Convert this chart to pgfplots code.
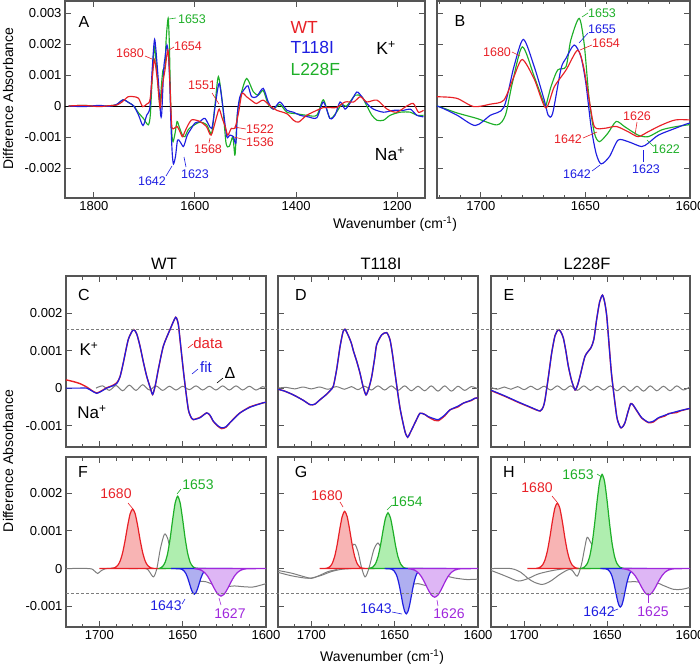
\documentclass[border=0pt]{standalone}
\usepackage{fontspec}
\setmainfont{Liberation Sans}
\usepackage{pgfplots}
\usepackage{pgfplotstable}
\pgfplotsset{compat=1.18}

\definecolor{cR}{RGB}{232,32,38}
\definecolor{cB}{RGB}{30,30,225}
\definecolor{cG}{RGB}{30,175,40}
\definecolor{cP}{RGB}{160,40,220}
\definecolor{fR}{RGB}{248,180,180}
\definecolor{fG}{RGB}{175,238,175}
\definecolor{fB}{RGB}{175,175,240}
\definecolor{fP}{RGB}{222,182,245}
\definecolor{frm}{RGB}{85,85,85}
\definecolor{gl}{RGB}{125,125,125}

% ---------- Panel A/B spectra (values in units of 1e-3) ----------
\pgfplotstableread{
w v
1850 0
1820 0.02
1790 -0.02
1770 0.01
1755 0.03
1745 0.12
1732 0.30
1721 0.30
1711.6 0.25
1703.5 -0.02
1695.5 0.06
1689 0.19
1684.2 0.95
1680.2 1.50
1674.5 0.87
1669 -0.06
1664.9 0.62
1659.3 1.16
1653.8 1.80
1651 1.30
1648.2 0.20
1645.7 -0.67
1640.9 -0.72
1635.3 -0.66
1629.6 -0.83
1624.8 -0.99
1620 -0.83
1613.5 -0.61
1607 -0.45
1600 -0.45
1590 -0.50
1577 -0.67
1568 -0.94
1557 -0.34
1552 -0.10
1546 -0.40
1540 -0.67
1535 -0.94
1528 -0.72
1521 -0.72
1514 -0.24
1507 0.40
1498 0.30
1485 0.14
1478 0.08
1465 0.19
1451 0
1438 -0.14
1418 -0.25
1405 -0.46
1395 -0.52
1379 -0.30
1359 -0.14
1346 -0.05
1333 -0.05
1320 -0.05
1303 0.13
1286 0.13
1273 0.30
1260 0.13
1240 0.19
1220 -0.10
1201 -0.20
1181 0
1168 0.08
1158 -0.20
1148 -0.14
}\Ared
\pgfplotstableread{
w v
1850 0
1820 -0.02
1790 0.02
1770 -0.01
1755 0.05
1742 0.20
1730 0.10
1721 0
1711.6 -0.29
1702.7 -0.63
1695.5 -0.30
1689 -0.04
1684.2 1.27
1679.7 2.15
1674.5 1.27
1669.7 0.19
1667.8 -0.30
1665.7 -0.24
1661.7 1.20
1659.3 1.54
1655.4 1.97
1652.2 1.60
1649.8 0.73
1647.3 -0.67
1644.9 -1.53
1642.5 -1.87
1638.5 -1.63
1634.4 -1.10
1629.6 -1.15
1623.2 -1.31
1620 -1.20
1615.1 -0.94
1607 -0.72
1600 -0.55
1590 -0.50
1580 -0.40
1567 -0.72
1560 0
1552 0.73
1544 -0.13
1537 -0.99
1531 -0.94
1524 -0.99
1519 -1.20
1516 -0.24
1511 0.30
1501 0.57
1495 0.65
1488 0.30
1478 0.30
1465 0.57
1455 0.13
1445 -0.10
1432 0.13
1418 -0.14
1405 -0.20
1392 -0.30
1376 -0.35
1359 -0.38
1346 0.13
1333 -0.40
1323 -0.30
1313 0.13
1303 -0.10
1293 0.10
1280 0.45
1270 0.30
1260 0.08
1247 -0.10
1227 -0.20
1207 -0.14
1187 -0.14
1174 -0.10
1161 -0.30
1148 -0.35
}\Ablue
\pgfplotstableread{
w v
1850 0
1820 0.02
1790 -0.01
1770 0.01
1755 0.04
1742 0.20
1730 0.10
1721 0
1711.6 -0.22
1702 -0.40
1692.3 -0.61
1688.3 -0.30
1685 0.73
1680.2 1.91
1674.5 0.95
1670 0.12
1669 0
1666.5 0.62
1663.3 1.16
1659.3 1.27
1657 2.13
1653 2.83
1650.6 2.00
1648.2 0.20
1645.7 -0.88
1643.3 -1.15
1639.3 -0.88
1635.3 -0.50
1631.2 -0.67
1624.8 -0.94
1620 -0.99
1613.5 -0.77
1607 -0.67
1600 -0.60
1590 -0.52
1577 -0.60
1567 -0.88
1560 0.09
1553.5 0.95
1545 0
1538.5 -1.20
1532 -1.30
1525 -1.00
1520.7 -1.58
1516 -0.24
1507.6 0.46
1497.6 0.89
1484.5 0.46
1474.6 0.35
1465 0.50
1455 0.05
1445 -0.10
1432 0.05
1418 -0.20
1399 -0.25
1379 -0.30
1359 -0.30
1346 0.20
1333 -0.40
1320 -0.20
1310 0.05
1300 0
1283 0.35
1270 0.30
1260 0
1250 -0.30
1240 -0.46
1227 -0.46
1214 -0.30
1194 -0.20
1174 -0.20
1161 -0.30
1148 -0.30
}\Agreen

% ---------- Panels C, D, E ----------
\pgfplotstableread{
w v
1720 0
1712 0
1707.6 0
1704.6 -0.07
1701.6 -0.14
1698.6 -0.08
1695.6 0
1692.6 0.05
1689.6 0.12
1687.6 0.30
1685.6 0.68
1682.6 1.30
1679.6 1.56
1677.6 1.45
1675.6 1.12
1673.6 0.70
1671.6 0.32
1669.6 0.03
1668 -0.17
1666.3 0.10
1664.6 0.50
1661.6 1.12
1657.6 1.56
1654.2 1.89
1652.6 1.70
1651.6 1.30
1649.2 0.32
1646.6 -0.57
1644.6 -0.80
1643.6 -0.84
1639.6 -0.79
1635.6 -0.66
1633.6 -0.72
1631.6 -0.88
1629 -1.00
1626.6 -1.06
1624 -1.03
1621.6 -0.92
1618.6 -0.79
1615.6 -0.66
1609.6 -0.51
1601.6 -0.39
1600 -0.38
}\Cfit
\pgfplotstableread{
w v
1720 0.22
1716 0.18
1711.6 0.12
1707.6 0.03
1704.6 -0.06
1701.6 -0.13
1698.6 -0.07
1695.6 0.01
1692.6 0.06
1689.6 0.14
1687.6 0.30
1685.6 0.68
1682.6 1.30
1679.6 1.56
1677.6 1.45
1675.6 1.12
1673.6 0.70
1671.6 0.32
1669.6 0.03
1668 -0.17
1666.3 0.10
1664.6 0.50
1661.6 1.12
1657.6 1.56
1654.2 1.89
1652.6 1.70
1651.6 1.30
1649.2 0.32
1646.6 -0.57
1644.6 -0.81
1643.6 -0.84
1639.6 -0.78
1635.6 -0.66
1633.6 -0.73
1631.6 -0.89
1629 -1.01
1626.6 -1.08
1624 -1.04
1621.6 -0.92
1618.6 -0.78
1615.6 -0.66
1609.6 -0.50
1601.6 -0.39
1600 -0.38
}\Cdat
\pgfplotstableread{
w v
1702 0
1698 0.06
1694 -0.06
1690 0.07
1686 -0.07
1682 0.08
1678 -0.06
1674 0.09
1670 -0.05
1666 0.06
1662 -0.06
1658 0.05
1654 -0.05
1650 0.05
1646 -0.04
1642 0.06
1638 -0.05
1634 0.05
1630 -0.05
1626 0.06
1622 -0.05
1618 0.06
1614 -0.05
1610 0.05
1606 -0.05
1602 0.04
1600 0
}\Cres
\pgfplotstableread{
w v
1720 -0.03
1716 -0.08
1710.8 -0.18
1705 -0.32
1700.8 -0.44
1698 -0.43
1694.8 -0.31
1691 -0.17
1688.8 -0.07
1686.8 0.05
1684.8 0.50
1682.8 1.10
1681 1.50
1679.8 1.57
1677.8 1.40
1676 1.20
1674.8 1.00
1672.8 0.72
1670.8 0.40
1669 0.05
1667.2 -0.18
1665.5 0
1663.8 0.30
1662 0.80
1660.8 1.16
1657.8 1.42
1654.8 1.48
1652.8 1.29
1651.3 0.90
1649.8 0.40
1646.8 -0.53
1643.8 -1.16
1642.2 -1.31
1640.8 -1.20
1639.8 -1.11
1637 -0.85
1634.8 -0.67
1632 -0.70
1629.8 -0.76
1626 -0.82
1623.8 -0.84
1620 -0.72
1616.8 -0.58
1612 -0.48
1608.8 -0.40
1604 -0.32
1601.8 -0.27
1600 -0.26
}\Dfit
\pgfplotstableread{
w v
1720 -0.03
1716 -0.08
1710.8 -0.18
1705 -0.32
1700.8 -0.44
1698 -0.43
1694.8 -0.31
1691 -0.17
1688.8 -0.07
1686.8 0.05
1684.8 0.50
1682.8 1.10
1681 1.50
1679.8 1.57
1677.8 1.40
1676 1.20
1674.8 1.00
1672.8 0.72
1670.8 0.40
1669 0.05
1667.2 -0.18
1665.5 0
1663.8 0.30
1662 0.80
1660.8 1.16
1657.8 1.42
1654.8 1.48
1652.8 1.29
1651.3 0.90
1649.8 0.40
1646.8 -0.53
1643.8 -1.16
1642.2 -1.31
1640.8 -1.20
1639.8 -1.11
1637 -0.85
1634.8 -0.67
1632 -0.70
1629.8 -0.77
1626 -0.86
1623.8 -0.87
1620 -0.74
1616.8 -0.58
1612 -0.50
1608.8 -0.40
1604 -0.33
1601.8 -0.27
1600 -0.26
}\Ddat
\pgfplotstableread{
w v
1720 0
1715 0.02
1710 -0.02
1705 0.03
1700 -0.02
1695 0.03
1690 -0.03
1685 0.04
1680 -0.03
1676 0.04
1672 -0.04
1668 0.05
1664 -0.05
1660 0.06
1656 -0.05
1652 0.06
1648 -0.06
1644 0.06
1640 -0.07
1636 0.05
1632 -0.07
1628 0.06
1624 -0.08
1620 0.06
1616 -0.08
1612 0.05
1608 -0.06
1604 0.04
1600 -0.02
}\Dres
\pgfplotstableread{
w v
1720 -0.06
1718.6 -0.08
1711.5 -0.21
1703.5 -0.37
1695.5 -0.52
1690.4 -0.61
1688.5 -0.50
1687.4 -0.30
1685.4 0.30
1683.4 0.94
1681.4 1.40
1679.4 1.56
1677.9 1.50
1676.4 1.34
1674.9 1.00
1673.4 0.59
1671.4 0.20
1669.3 -0.05
1667.8 0.08
1666.3 0.32
1663.3 0.85
1659.7 1.08
1658 1.30
1656.3 1.83
1654.5 2.30
1652.8 2.48
1651.5 2.30
1650.2 1.92
1648.7 1.10
1647.2 0.32
1644.2 -0.75
1642.5 -1.00
1641.6 -1.06
1640.4 -1.02
1639.2 -0.92
1637.5 -0.65
1635.8 -0.42
1634.5 -0.44
1633.2 -0.52
1631 -0.67
1629.1 -0.79
1625.1 -0.91
1622 -0.88
1619.1 -0.79
1615 -0.72
1611 -0.66
1606 -0.60
1601 -0.55
1600 -0.54
}\Efit
\pgfplotstableread{
w v
1720 -0.06
1718.6 -0.09
1711.5 -0.22
1703.5 -0.38
1697 -0.50
1695.5 -0.53
1690.4 -0.61
1688.5 -0.50
1687.4 -0.30
1685.4 0.30
1683.4 0.94
1681.4 1.40
1679.4 1.56
1677.9 1.50
1676.4 1.34
1674.9 1.00
1673.4 0.59
1671.4 0.20
1669.3 -0.05
1667.8 0.08
1666.3 0.32
1663.3 0.85
1659.7 1.08
1658 1.30
1656.3 1.83
1654.5 2.30
1652.8 2.48
1651.5 2.30
1650.2 1.92
1648.7 1.10
1647.2 0.32
1644.2 -0.75
1642.5 -1.00
1641.6 -1.06
1640.4 -1.02
1639.2 -0.92
1637.5 -0.65
1635.8 -0.41
1634.5 -0.44
1633.2 -0.53
1631 -0.68
1629.1 -0.80
1625.1 -0.92
1622 -0.90
1619.1 -0.80
1615 -0.74
1613 -0.68
1608 -0.65
1606 -0.61
1601 -0.55
1600 -0.54
}\Edat
\pgfplotstableread{
w v
1720 0.02
1716 -0.03
1712 0.03
1708 -0.03
1704 0.04
1700 -0.04
1696 0.05
1692 -0.04
1688 0.05
1684 -0.05
1680 0.06
1676 -0.05
1672 0.06
1668 -0.06
1664 0.06
1660 -0.06
1656 0.05
1652 -0.05
1648 0.06
1644 -0.07
1640 0.05
1636 -0.08
1632 0.05
1628 -0.08
1624 0.06
1620 -0.07
1616 0.05
1612 -0.07
1608 0.06
1604 -0.05
1600 0.04
}\Eres

% ---------- Panels F, G, H (band components) ----------
\pgfplotstableread{
w v
1700 0
1693 0.003
1691 0.019
1689 0.082
1687.5 0.202
1686 0.424
1684.5 0.754
1683 1.138
1681.5 1.455
1680 1.58
1678.5 1.455
1677 1.138
1675.5 0.754
1674 0.424
1672.5 0.202
1671 0.082
1669 0.019
1667 0.003
1660 0
}\Fr
\pgfplotstableread{
w v
1664 0
1662 0.058
1660.5 0.168
1659 0.405
1657.5 0.799
1656 1.302
1654.5 1.741
1653 1.92
1651.5 1.741
1650 1.302
1648.5 0.799
1647 0.405
1645.5 0.168
1644 0.058
1642 0.010
1636 0
}\Fg
\pgfplotstableread{
w v
1657 0
1652 -0.004
1650.5 -0.019
1649 -0.069
1648 -0.138
1647 -0.245
1646 -0.383
1645 -0.527
1644 -0.638
1643 -0.68
1642 -0.638
1641 -0.527
1640 -0.383
1639 -0.245
1638 -0.138
1637 -0.069
1635.5 -0.019
1634 -0.004
1620 0
}\Fb
\pgfplotstableread{
w v
1643 0
1641 -0.014
1639 -0.041
1637 -0.099
1635 -0.203
1633 -0.356
1631 -0.530
1629 -0.674
1627 -0.73
1625 -0.674
1623 -0.530
1621 -0.356
1619 -0.203
1617 -0.099
1615 -0.041
1613 -0.014
1611 -0.004
1600 0
}\Fp
\pgfplotstableread{
w v
1720 0
1706 0
1703 -0.06
1701 -0.13
1699 -0.06
1696 0
1690 0.01
1680 0
1672 0
1670 -0.08
1667.5 -0.22
1665.5 0
1663.5 0.50
1661.5 0.85
1660.5 0.92
1659 0.80
1657 0.50
1652 0.30
1648 0
1643 -0.30
1636 -0.35
1630 -0.45
1624 -0.48
1619 -0.46
1614 -0.48
1608 -0.49
1604 -0.45
1600 -0.40
}\Fgray
\pgfplotstableread{
w v
1695 0
1691 0.008
1689 0.046
1687.5 0.133
1686 0.321
1684.5 0.632
1683 1.031
1681.5 1.379
1680 1.52
1678.5 1.379
1677 1.031
1675.5 0.632
1674 0.321
1672.5 0.133
1671 0.046
1669 0.008
1662 0
}\Gr
\pgfplotstableread{
w v
1666 0
1665 0.008
1663 0.045
1661.5 0.130
1660 0.312
1658.5 0.616
1657 1.003
1655.5 1.342
1654 1.48
1652.5 1.342
1651 1.003
1649.5 0.616
1648 0.312
1646.5 0.130
1645 0.045
1643 0.008
1633 0
}\Gg
\pgfplotstableread{
w v
1656 0
1652 -0.013
1650.5 -0.053
1649 -0.162
1648 -0.299
1647 -0.493
1646 -0.728
1645 -0.961
1644 -1.135
1643 -1.20
1642 -1.135
1641 -0.961
1640 -0.728
1639 -0.493
1638 -0.299
1637 -0.162
1635.5 -0.053
1634 -0.013
1619 0
}\Gb
\pgfplotstableread{
w v
1642 0
1640 -0.015
1638 -0.043
1636 -0.103
1634 -0.211
1632 -0.370
1630 -0.552
1628 -0.701
1626 -0.76
1624 -0.701
1622 -0.552
1620 -0.370
1618 -0.211
1616 -0.103
1614 -0.043
1612 -0.015
1610 -0.005
1600 0
}\Gp
\pgfplotstableread{
w v
1720 -0.05
1712 -0.12
1704 -0.22
1700 -0.26
1696 -0.20
1690 -0.08
1684 0
1679 0.30
1675.5 0.60
1673.8 0.64
1672 0.45
1670 0.05
1667.8 -0.22
1665.5 0
1662.5 0.50
1660 0.68
1658 0.55
1652 0.30
1647 0
1643 -0.40
1636 -0.40
1630 -0.45
1625 -0.30
1621 -0.18
1617 -0.22
1614 -0.25
1606.8 -0.29
1600 -0.28
}\Ggraya
\pgfplotstableread{
w v
1720 -0.10
1712 -0.19
1704 -0.25
1700 -0.25
1694 -0.18
1688 -0.08
1682 -0.02
1676 0
}\Ggrayb
\pgfplotstableread{
w v
1698 0
1693 0.004
1691 0.021
1689 0.090
1687.5 0.223
1686 0.467
1684.5 0.830
1683 1.253
1681.5 1.603
1680 1.74
1678.5 1.603
1677 1.253
1675.5 0.830
1674 0.467
1672.5 0.223
1671 0.090
1669 0.021
1667 0.004
1660 0
}\Hr
\pgfplotstableread{
w v
1666 0
1664 0.030
1662 0.130
1660.5 0.32
1659 0.671
1657.5 1.193
1656 1.80
1654.5 2.303
1653 2.50
1651.5 2.303
1650 1.80
1648.5 1.193
1647 0.671
1645.5 0.32
1644 0.130
1642 0.030
1640 0.005
1635 0
}\Hg
\pgfplotstableread{
w v
1654 0
1651 -0.006
1649.5 -0.028
1648 -0.103
1647 -0.207
1646 -0.367
1645 -0.574
1644 -0.791
1643 -0.957
1642 -1.02
1641 -0.957
1640 -0.791
1639 -0.574
1638 -0.367
1637 -0.207
1636 -0.103
1634.5 -0.028
1633 -0.006
1626 0
}\Hb
\pgfplotstableread{
w v
1641 0
1639 -0.014
1637 -0.039
1635 -0.095
1633 -0.195
1631 -0.341
1629 -0.508
1627 -0.646
1625 -0.70
1623 -0.646
1621 -0.508
1619 -0.341
1617 -0.195
1615 -0.095
1613 -0.039
1611 -0.014
1609 -0.004
1600 0
}\Hp
\pgfplotstableread{
w v
1720 -0.05
1714 -0.15
1709 -0.24
1703.5 -0.33
1698 -0.27
1692 -0.15
1686 -0.08
1680 -0.03
1674 0
1671 -0.05
1668 -0.20
1665.5 0.10
1663.5 0.55
1662 0.83
1660 0.70
1657 0.50
1652 0.30
1648 0
1645 -0.30
1640 -0.35
1632 -0.35
1626 -0.40
1620 -0.38
1616 -0.45
1610 -0.55
1605 -0.55
1600 -0.50
}\Hgraya
\pgfplotstableread{
w v
1720 0
1708 0
1702 -0.10
1698 -0.25
1694 -0.36
1689 -0.42
1684 -0.33
1679 -0.17
1674 -0.04
1670 0
}\Hgrayb

\pgfplotsset{
  base/.style={
    scale only axis, x dir=reverse,
    axis line style={frm, line width=1.1pt},
    every tick/.style={frm, line width=0.9pt},
    major tick length=6pt, minor tick length=3.5pt,
    tick label style={font=\fontsize{13}{13}\selectfont, text=black},
    /pgf/number format/assume math mode=true,
    /pgf/number format/1000 sep={},
    tick align=inside,
  },
  topA/.style={base, ymin=-2.97, ymax=3.39,
    ytick={-2,-1,0,1,2,3}},
  spec/.style={line width=1.15pt, smooth, tension=0.45},
  btm/.style={base, width=200pt, height=171pt, xmin=1600, xmax=1720,
    xtick={1600,1650,1700}, minor xtick={1610,1620,...,1720},
    ytick={-1,0,1,2}},
  cmp/.style={line width=1.2pt, smooth, tension=0.4},
}

\newcommand{\ann}[4]{\node[text=#1, font=\fontsize{#4}{#4}\selectfont, inner sep=0pt] at (#2) {#3};}

\begin{document}
\begin{tikzpicture}
\path[use as bounding box] (0pt,0pt) rectangle (700pt,-666pt);

% ===== A =====
\begin{axis}[topA, at={(65pt,-1pt)}, anchor=north west, width=360pt, height=197pt,
  xmin=1145, xmax=1857, xtick={1200,1400,1600,1800},
  yticklabels={-0.002,-0.001,0,0.001,0.002,0.003}]
\addplot[black, line width=0.9pt] coordinates {(1100,0) (1900,0)};
\addplot[spec, cG] table {\Agreen};
\addplot[spec, cB] table {\Ablue};
\addplot[spec, cR] table {\Ared};
\end{axis}

% ===== B =====
\begin{axis}[topA, at={(437pt,-1pt)}, anchor=north west, width=253pt, height=197pt,
  xmin=1600, xmax=1721, xtick={1600,1650,1700}, minor xtick={1610,1620,...,1720},
  yticklabels={}]
\addplot[black, line width=0.9pt] coordinates {(1590,0) (1730,0)};
\addplot[spec, cG] table {\Agreen};
\addplot[spec, cB] table {\Ablue};
\addplot[spec, cR] table {\Ared};
\end{axis}

% ===== C =====
\begin{axis}[btm, at={(66pt,-276pt)}, anchor=north west, ymin=-1.57, ymax=2.99,
  xticklabels={}, yticklabels={-0.001,0,0.001,0.002}]
\addplot[gl, line width=1pt, smooth] table {\Cres};
\addplot[cR, line width=1.4pt, smooth, tension=0.4] table {\Cdat};
\addplot[cB, line width=1.2pt, smooth, tension=0.4] table {\Cfit};
\end{axis}
% ===== D =====
\begin{axis}[btm, at={(278pt,-276pt)}, anchor=north west, ymin=-1.57, ymax=2.99,
  xticklabels={}, yticklabels={}]
\addplot[gl, line width=1pt, smooth] table {\Dres};
\addplot[cR, line width=1.4pt, smooth, tension=0.4] table {\Ddat};
\addplot[cB, line width=1.2pt, smooth, tension=0.4] table {\Dfit};
\end{axis}
% ===== E =====
\begin{axis}[btm, at={(491pt,-276pt)}, anchor=north west, width=199pt, ymin=-1.57, ymax=2.99,
  xticklabels={}, yticklabels={}]
\addplot[gl, line width=1pt, smooth] table {\Eres};
\addplot[cR, line width=1.4pt, smooth, tension=0.4] table {\Edat};
\addplot[cB, line width=1.2pt, smooth, tension=0.4] table {\Efit};
\end{axis}

% ===== F =====
\begin{axis}[btm, at={(66pt,-457pt)}, anchor=north west, height=170pt, ymin=-1.55, ymax=2.96,
  yticklabels={-0.001,0,0.001,0.002}]
\addplot[gl, line width=1pt, smooth] table {\Fgray};
\addplot[cmp, cR, fill=fR] table {\Fr} \closedcycle;
\addplot[cmp, cG, fill=fG] table {\Fg} \closedcycle;
\addplot[cmp, cB, fill=fB] table {\Fb} \closedcycle;
\addplot[cmp, cP, fill=fP] table {\Fp} \closedcycle;
\end{axis}
% ===== G =====
\begin{axis}[btm, at={(278pt,-457pt)}, anchor=north west, height=170pt, ymin=-1.55, ymax=2.96,
  yticklabels={}]
\addplot[gl, line width=1pt, smooth] table {\Ggrayb};
\addplot[gl, line width=1pt, smooth] table {\Ggraya};
\addplot[cmp, cR, fill=fR] table {\Gr} \closedcycle;
\addplot[cmp, cG, fill=fG] table {\Gg} \closedcycle;
\addplot[cmp, cB, fill=fB] table {\Gb} \closedcycle;
\addplot[cmp, cP, fill=fP] table {\Gp} \closedcycle;
\end{axis}
% ===== H =====
\begin{axis}[btm, at={(491pt,-457pt)}, anchor=north west, width=199pt, height=170pt, ymin=-1.55, ymax=2.96,
  yticklabels={}]
\addplot[gl, line width=1pt, smooth] table {\Hgrayb};
\addplot[gl, line width=1pt, smooth] table {\Hgraya};
\addplot[cmp, cR, fill=fR] table {\Hr} \closedcycle;
\addplot[cmp, cG, fill=fG] table {\Hg} \closedcycle;
\addplot[cmp, cB, fill=fB] table {\Hb} \closedcycle;
\addplot[cmp, cP, fill=fP] table {\Hp} \closedcycle;
\end{axis}

\begin{scope}[x=1pt, y=-1pt]
% dashed reference lines
\draw[gl, line width=0.8pt, dash pattern=on 3pt off 2pt] (66,329.5) -- (690,329.5);
\draw[gl, line width=0.8pt, dash pattern=on 3pt off 2pt] (66,593.5) -- (690,593.5);

% axis labels
\node[rotate=90, font=\fontsize{14}{14}\selectfont] at (8,98.5) {Difference Absorbance};
\node[rotate=90, font=\fontsize{14}{14}\selectfont] at (8,461) {Difference Absorbance};
\node[font=\fontsize{14}{14}\selectfont] at (395,224) {Wavenumber (cm\textsuperscript{-1})};
\node[font=\fontsize{14}{14}\selectfont] at (382,657) {Wavenumber (cm\textsuperscript{-1})};

% column titles
\node[font=\fontsize{16.5}{16.5}\selectfont] at (164,264) {WT};
\node[font=\fontsize{16.5}{16.5}\selectfont] at (381,264) {T118I};
\node[font=\fontsize{16.5}{16.5}\selectfont] at (587,264) {L228F};

% panel letters
\foreach \l/\x/\y in {A/84/22, B/460/21, C/84/295, D/301/295, E/509/295, F/83/472, G/301/472, H/509/472}
  \node[font=\fontsize{16}{16}\selectfont] at (\x,\y) {\l};

% legend in A
\node[anchor=west, text=cR, font=\fontsize{17.5}{17.5}\selectfont] at (287,27) {WT};
\node[anchor=west, text=cB, font=\fontsize{17.5}{17.5}\selectfont] at (287,47) {T118I};
\node[anchor=west, text=cG, font=\fontsize{17.5}{17.5}\selectfont] at (287,69) {L228F};
\node[font=\fontsize{17.5}{17.5}\selectfont] at (386,48) {K\textsuperscript{+}};
\node[font=\fontsize{17.5}{17.5}\selectfont] at (390,154) {Na\textsuperscript{+}};
\node[font=\fontsize{17}{17}\selectfont] at (89,349) {K\textsuperscript{+}};
\node[font=\fontsize{17}{17}\selectfont] at (92,412) {Na\textsuperscript{+}};

% annotations A
\ann{cG}{192,19}{1653}{12.5} \draw[cG, line width=0.6pt] (169,19) -- (176,18);
\ann{cR}{188,46}{1654}{12.5} \draw[cR, line width=0.6pt] (169,50) -- (174,47);
\ann{cR}{130,53}{1680}{12.5} \draw[cR, line width=0.6pt] (145,56) -- (152,59);
\ann{cR}{202,85}{1551}{12.5} \draw[cR, line width=0.6pt] (212,93) -- (219,104);
\ann{cR}{260,129}{1522}{12.5} \draw[cR, line width=0.6pt] (234,127) -- (246,129);
\ann{cR}{260,142}{1536}{12.5} \draw[cR, line width=0.6pt] (234,137) -- (246,140);
\ann{cR}{208,149}{1568}{12.5} \draw[cR, line width=0.6pt] (210,138) -- (209,143);
\ann{cB}{152,181}{1642}{12.5} \draw[cB, line width=0.6pt] (166,176) -- (172,166);
\ann{cB}{195,174}{1623}{12.5} \draw[cB, line width=0.6pt] (184,157) -- (186,167);
% annotations B
\ann{cG}{602,13}{1653}{12.5} \draw[cG, line width=0.6pt] (582,17) -- (588,13);
\ann{cB}{602,29}{1655}{12.5} \draw[cB, line width=0.6pt] (579,43) -- (588,33);
\ann{cR}{606,43}{1654}{12.5} \draw[cR, line width=0.6pt] (580,50) -- (592,45);
\ann{cR}{497,52}{1680}{12.5} \draw[cR, line width=0.6pt] (512,52) -- (520,56);
\ann{cR}{637,116}{1626}{12.5} \draw[cR, line width=0.6pt] (637,122) -- (635,135);
\ann{cR}{568,139}{1642}{12.5} \draw[cR, line width=0.6pt] (583,138) -- (597,132);
\ann{cG}{666,149}{1622}{12.5} \draw[cG, line width=0.6pt] (647,140) -- (653,146);
\ann{cB}{577,174}{1642}{12.5} \draw[cB, line width=0.6pt] (592,171) -- (600,165);
\ann{cB}{646,169}{1623}{12.5} \draw[cB, line width=0.6pt] (643,150) -- (643,162);
% annotations C
\ann{cR}{208,343}{data}{15} \draw[cR, line width=0.6pt] (188,348) -- (193,344);
\ann{cB}{206,367}{fit}{15} \draw[cB, line width=0.6pt] (192,374) -- (198,369);
\ann{black}{230,373}{Δ}{16} \draw[black, line width=0.6pt] (217,383) -- (223,378);
% annotations F
\ann{cR}{116,494}{1680}{14} \draw[cR, line width=0.6pt] (128,503) -- (133,509);
\ann{cG}{198,485}{1653}{14} \draw[cG, line width=0.6pt] (177,494) -- (181,489);
\ann{cB}{166,606}{1643}{14} \draw[cB, line width=0.6pt] (182,604) -- (185,599);
\ann{cP}{230,614}{1627}{14} \draw[cP, line width=0.6pt] (219,598) -- (221,605);
% annotations G
\ann{cR}{327,496}{1680}{14} \draw[cR, line width=0.6pt] (340,502) -- (343,507);
\ann{cG}{407,502}{1654}{14} \draw[cG, line width=0.6pt] (387,510) -- (392,505);
\ann{cB}{376,609}{1643}{14} \draw[cB, line width=0.6pt] (392,612) -- (402,614);
\ann{cP}{449,614}{1626}{14} \draw[cP, line width=0.6pt] (437,600) -- (438,606);
% annotations H
\ann{cG}{578,475}{1653}{14} \draw[cG, line width=0.6pt] (597,474) -- (602,477);
\ann{cR}{537,488}{1680}{14} \draw[cR, line width=0.6pt] (552,496) -- (557,502);
\ann{cB}{599,612}{1642}{14} \draw[cB, line width=0.6pt] (613,611) -- (618,609);
\ann{cP}{653,612}{1625}{14} \draw[cP, line width=0.6pt] (648,594) -- (648,603);
\end{scope}
\end{tikzpicture}
\end{document}
